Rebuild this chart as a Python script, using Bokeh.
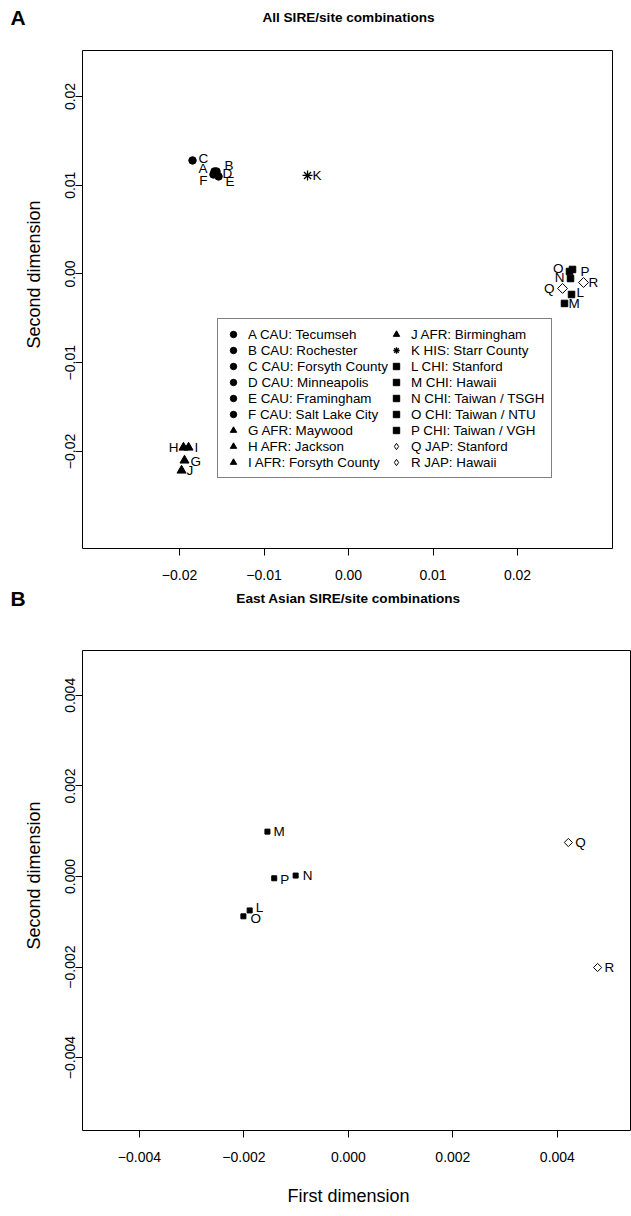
import math
from bokeh.plotting import figure
from bokeh.models import (Range1d, FixedTicker, Label, Legend, LegendItem,
                          ColumnDataSource, CDSView, IndexFilter)
from bokeh.layouts import column, row
from bokeh.embed import file_html
from bokeh.resources import INLINE
from bokeh.core.properties import value

# ---------------- data: panel A (all SIRE/site combinations) ----------------
CODES_A = ["A", "B", "C", "D", "E", "F", "G", "H", "I", "J", "K",
           "L", "M", "N", "O", "P", "Q", "R"]
SITES_A = ["A CAU: Tecumseh", "B CAU: Rochester", "C CAU: Forsyth County",
           "D CAU: Minneapolis", "E CAU: Framingham", "F CAU: Salt Lake City",
           "G AFR: Maywood", "H AFR: Jackson", "I AFR: Forsyth County",
           "J AFR: Birmingham", "K HIS: Starr County", "L CHI: Stanford",
           "M CHI: Hawaii", "N CHI: Taiwan / TSGH", "O CHI: Taiwan / NTU",
           "P CHI: Taiwan / VGH", "Q JAP: Stanford", "R JAP: Hawaii"]
GROUP_A = ["CAU"] * 6 + ["AFR"] * 4 + ["HIS"] + ["CHI"] * 5 + ["JAP"] * 2
DIM1_A = [-0.01586, -0.01562, -0.01846, -0.01562, -0.01538, -0.01598,
          -0.01941, -0.01953, -0.01893, -0.01976, -0.00485,
          0.02639, 0.02556, 0.02627, 0.02615, 0.02651, 0.02533, 0.02781]
DIM2_A = [0.01155, 0.01155, 0.01279, 0.01121, 0.01099, 0.01121,
          -0.02101, -0.01955, -0.01955, -0.02214, 0.01110,
          -0.00231, -0.00332, -0.00051, 0.00028, 0.00051, -0.00163, -0.00096]
TICKS_A = [-0.02, -0.01, 0.0, 0.01, 0.02]
TICKLABELS_A = ["\u22120.02", "\u22120.01", "0.00", "0.01", "0.02"]

# ---------------- data: panel B (East Asian SIRE/site combinations) ----------
CODES_B = ["L", "M", "N", "O", "P", "Q", "R"]
GROUP_B = ["CHI"] * 5 + ["JAP"] * 2
DIM1_B = [-0.00189, -0.00155, -0.00101, -0.00201, -0.00142, 0.00421, 0.00477]
DIM2_B = [-0.00075, 0.00099, 0.00002, -0.00088, -0.00004, 0.00075, -0.00201]
TICKS_B = [-0.004, -0.002, 0.0, 0.002, 0.004]
TICKLABELS_B = ["\u22120.004", "\u22120.002", "0.000", "0.002", "0.004"]

TITLE_A = "All SIRE/site combinations"
TITLE_B = "East Asian SIRE/site combinations"
XLABEL = "First dimension"
YLABEL = "Second dimension"

# ---------------- styles ----------------
FONT = "Liberation Sans"
W = 631
STRIP = 45          # width of the strip that holds the rotated y-axis title
MARKER = {"CAU": "circle", "AFR": "triangle", "HIS": "asterisk",
          "CHI": "square", "JAP": "square"}
LEGEND_MARKER = {"CAU": "circle", "AFR": "triangle", "HIS": "asterisk",
                 "CHI": "square", "JAP": "diamond"}
ANGLE = {"CAU": 0.0, "AFR": 0.0, "HIS": 0.0, "CHI": 0.0, "JAP": math.pi / 4}
FILL = {"CAU": "black", "AFR": "black", "HIS": "black", "CHI": "black", "JAP": "white"}
LW = {"CAU": 1, "AFR": 1, "HIS": 1.3, "CHI": 1, "JAP": 1}
SIZE_A = {"CAU": 7.5, "AFR": 9, "HIS": 10, "CHI": 6.5, "JAP": 7}
SIZE_B = {"CHI": 5, "JAP": 5.8}
# label placement (pixels, screen-down positive) and alignment per code
LAB_A = {"A": (-7, -3, "right"), "B": (8, -6, "left"), "C": (6, -2, "left"),
         "D": (6, -1, "left"), "E": (7, 5, "left"), "F": (-6, 6, "right"),
         "G": (6, 1, "left"), "H": (-5, 0, "right"), "I": (6, 0, "left"),
         "J": (5, 0, "left"), "K": (5, 0, "left"), "L": (5, -2, "left"),
         "M": (4, 0, "left"), "N": (-6, -1, "right"), "O": (-6, -3, "right"),
         "P": (8, 2, "left"), "Q": (-8, 0, "right"), "R": (5, 0, "left")}
LAB_B = {"L": (6, -3, "left"), "M": (6, 0, "left"), "N": (7, 0, "left"),
         "O": (7, 2, "left"), "P": (6, 1, "left"), "Q": (7, 0, "left"),
         "R": (7, 0, "left")}


def strip(width, height, texts):
    """A blank figure whose frame is its whole canvas, used to hold free text."""
    h = figure(width=width, height=height, output_backend="svg", toolbar_location=None,
               x_range=Range1d(0, 1), y_range=Range1d(0, 1),
               x_axis_type=None, y_axis_type=None, frame_align=False,
               min_border_left=0, min_border_right=0,
               min_border_top=0, min_border_bottom=0)
    h.outline_line_color = None
    h.background_fill_color = "white"
    h.border_fill_color = "white"
    for (txt, x, y, size, style, align, angle) in texts:
        h.add_layout(Label(x=x, y=y, x_units="screen", y_units="screen", text=txt,
                           text_font=FONT, text_font_size=size, text_font_style=style,
                           text_baseline="middle", text_align=align, angle=angle,
                           text_color="black"))
    return h


def base_figure(height, xr, yr, top, bottom, right):
    p = figure(width=W - STRIP, height=height, output_backend="svg",
               toolbar_location=None,
               x_range=Range1d(*xr), y_range=Range1d(*yr), frame_align=False,
               min_border_left=82 - STRIP, min_border_right=right,
               min_border_top=top, min_border_bottom=bottom)
    p.grid.visible = False
    p.outline_line_color = "black"
    p.outline_line_width = 1
    p.outline_line_alpha = 1
    p.background_fill_color = "white"
    p.border_fill_color = "white"
    return p


def style_axes(p, ticks, labels):
    for ax in (p.xaxis[0], p.yaxis[0]):
        ax.ticker = FixedTicker(ticks=ticks)
        ax.major_label_overrides = dict(zip(ticks, labels))
        ax.axis_line_color = None
        ax.major_tick_in = 0
        ax.major_tick_out = 7
        ax.major_tick_line_color = "black"
        ax.minor_tick_line_color = None
        ax.major_label_text_font = FONT
        ax.major_label_text_font_size = "14px"
        ax.major_label_text_color = "black"
    p.xaxis.major_label_standoff = 14
    p.yaxis.major_label_standoff = 0
    p.yaxis.major_label_orientation = "vertical"


def make_source(codes, groups, xs, ys, sizes, lab):
    return ColumnDataSource(dict(
        x=xs, y=ys, code=codes,
        marker=[MARKER[g] for g in groups], lmarker=[LEGEND_MARKER[g] for g in groups],
        fill=[FILL[g] for g in groups], angle=[ANGLE[g] for g in groups],
        lw=[LW[g] for g in groups], size=[sizes[g] for g in groups],
        dx=[lab[c][0] for c in codes], dy=[lab[c][1] for c in codes]))


def add_points(p, src, codes, lab):
    p.scatter("x", "y", marker="marker", size="size", fill_color="fill",
              angle="angle", line_color="black", line_width="lw", source=src)
    for align in ("left", "right"):
        idx = [i for i, c in enumerate(codes) if lab[c][2] == align]
        if not idx:
            continue
        p.text("x", "y", text="code", x_offset="dx", y_offset="dy", source=src,
               view=CDSView(filter=IndexFilter(idx)), text_align=align,
               text_baseline="middle", text_font=value(FONT),
               text_font_size=value("13.5px"), text_color="black")


VERT = math.pi / 2

# ---------------- panel A ----------------
hA = strip(W, 49, [("A", 10, 32, "21px", "bold", "left", 0),
                   (TITLE_A, 348, 32, "13.6px", "bold", "center", 0)])
yA = strip(STRIP, 537, [(YLABEL, 33, 312, "18px", "normal", "center", VERT)])
pA = base_figure(537, (-0.03148, 0.03124), (-0.03093, 0.02518), 1, 38, 19)
srcA = make_source(CODES_A, GROUP_A, DIM1_A, DIM2_A, SIZE_A, LAB_A)
add_points(pA, srcA, CODES_A, LAB_A)
# legend-only renderer (not drawn in the plot) so the key shows diamonds
rLeg = pA.scatter("x", "y", marker="lmarker", size="size", fill_color="fill",
                  line_color="black", line_width="lw", source=srcA, visible=False)
style_axes(pA, TICKS_A, TICKLABELS_A)

legend = Legend(items=[LegendItem(label=s, renderers=[rLeg], index=i)
                       for i, s in enumerate(SITES_A)],
                ncols=2, location=(135, 70), orientation="vertical",
                padding=7, spacing=0, margin=0, label_height=16, glyph_height=16,
                glyph_width=16, label_standoff=7,
                label_text_font=FONT, label_text_font_size="13.4px",
                label_text_color="black",
                border_line_color="black", border_line_width=1,
                background_fill_color="white", background_fill_alpha=1)
pA.add_layout(legend)

# ---------------- panel B ----------------
hB = strip(W, 63, [("B", 10, 51, "21px", "bold", "left", 0),
                   (TITLE_B, 348, 51, "13.6px", "bold", "center", 0)])
yB = strip(STRIP, 525, [(YLABEL, 33, 299, "18px", "normal", "center", VERT)])
pB = base_figure(525, (-0.00509, 0.00540), (-0.00561, 0.00499), 1, 44, 1)
srcB = make_source(CODES_B, GROUP_B, DIM1_B, DIM2_B, SIZE_B, LAB_B)
add_points(pB, srcB, CODES_B, LAB_B)
style_axes(pB, TICKS_B, TICKLABELS_B)
fB = strip(W, 40, [(XLABEL, 348, 19, "18px", "normal", "center", 0)])

layout = column(hA, row(yA, pA, spacing=0), hB, row(yB, pB, spacing=0), fB, spacing=0)
open("out.html", "w").write(file_html(layout, INLINE))
